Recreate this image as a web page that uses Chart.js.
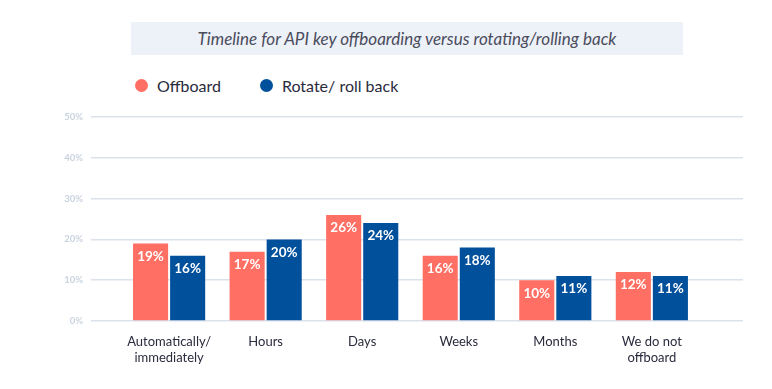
<!DOCTYPE html>
<html>
<head>
<meta charset="utf-8">
<script src="https://cdn.jsdelivr.net/npm/chart.js@4/dist/chart.umd.min.js"></script>
<style>
  html, body { margin: 0; padding: 0; background: #ffffff; }
  #wrap { position: relative; width: 772px; height: 389px; }
  #title {
    position: absolute; left: 131px; top: 22px; width: 552px; height: 33px;
    background: #edf1f8; color: #4a4c5c; font-family: Lato, "Open Sans", sans-serif;
    font-style: italic; font-size: 17px; line-height: 33px; text-align: center;
  }
  #legend {
    position: absolute; left: 135px; top: 76px; font-family: Lato, "Open Sans", sans-serif;
    font-size: 16px; color: #2a2b3d; display: flex; align-items: center;
  }
  #legend span.item { display: flex; align-items: center; margin-right: 39px; }
  #legend span.dot { width: 13px; height: 13px; border-radius: 50%; display: inline-block; margin-right: 9px; }
  canvas { position: absolute; left: 0; top: 0; }
</style>
</head>
<body>
<div id="wrap">
  <div id="title">Timeline for API key offboarding versus rotating/rolling back</div>
  <div id="legend"></div>
  <canvas id="c" width="772" height="389"></canvas>
</div>
<script>
const categories = [["Automatically/", "immediately"], "Hours", "Days", "Weeks", "Months", ["We do not", "offboard"]];
const seriesNames = ["Offboard", "Rotate/ roll back"];
const offboard = [19, 17, 26, 16, 10, 12];
const rotate = [16, 20, 24, 18, 11, 11];
const yTicks = [0, 10, 20, 30, 40, 50];
const colors = ["#ff6f64", "#00509c"];

const legend = document.getElementById('legend');
seriesNames.forEach((n, i) => {
  const s = document.createElement('span'); s.className = 'item';
  const d = document.createElement('span'); d.className = 'dot'; d.style.background = colors[i];
  s.appendChild(d); s.appendChild(document.createTextNode(n));
  legend.appendChild(s);
});

const labelPlugin = {
  id: 'barLabels',
  afterDatasetsDraw(chart) {
    const ctx = chart.ctx;
    ctx.save();
    ctx.fillStyle = '#ffffff';
    ctx.font = 'bold 13.5px Lato, "Open Sans", sans-serif';
    ctx.textAlign = 'center';
    ctx.textBaseline = 'middle';
    chart.data.datasets.forEach((ds, di) => {
      chart.getDatasetMeta(di).data.forEach((bar, i) => {
        ctx.fillText(ds.data[i].y + '%', bar.x, bar.y + 13);
      });
    });
    ctx.restore();
  }
};

const toPts = arr => arr.map((v, i) => ({ x: i, y: v }));

new Chart(document.getElementById('c'), {
  type: 'bar',
  data: {
    datasets: [
      { label: seriesNames[0], data: toPts(offboard), backgroundColor: colors[0], categoryPercentage: 0.768, barPercentage: 0.946 },
      { label: seriesNames[1], data: toPts(rotate), backgroundColor: colors[1], categoryPercentage: 0.768, barPercentage: 0.946 }
    ]
  },
  options: {
    responsive: false,
    animation: false,
    layout: { padding: { top: 117, left: 51, right: 29, bottom: 8 } },
    plugins: { legend: { display: false }, tooltip: { enabled: false } },
    scales: {
      x: {
        type: 'linear',
        offset: false,
        min: -0.809, max: 5.944,
        grid: { display: false },
        border: { display: false },
        afterBuildTicks(s) { s.ticks = categories.map((c, i) => ({ value: i })); },
        afterFit(s) { s.height = 60; },
        ticks: {
          autoSkip: false, maxRotation: 0,
          callback: (v) => categories[v],
          color: '#2a2b3d',
          font: { family: 'Lato, "Open Sans", sans-serif', size: 13 },
          padding: 5
        }
      },
      y: {
        min: 0, max: 50,
        afterBuildTicks(s) { s.ticks = yTicks.map(v => ({ value: v })); },
        afterFit(s) { s.width = 40; },
        grid: { color: '#dbe2ec', lineWidth: 1.5, drawTicks: false },
        border: { display: false },
        ticks: {
          callback: v => v + '%',
          color: '#c9d3df',
          font: { family: 'Lato, "Open Sans", sans-serif', size: 9.5, weight: 'bold' },
          padding: 8
        }
      }
    }
  },
  plugins: [labelPlugin]
});
</script>
</body>
</html>
